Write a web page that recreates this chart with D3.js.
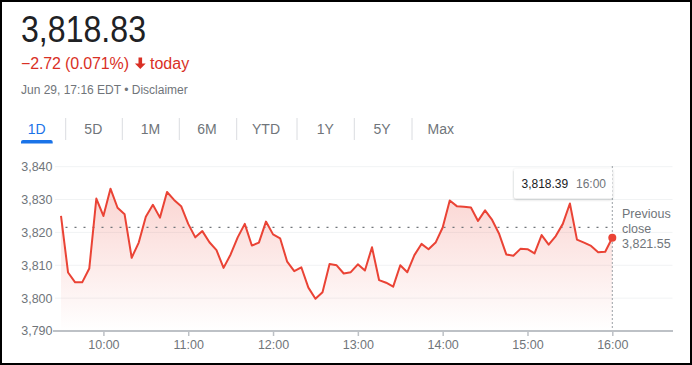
<!DOCTYPE html>
<html>
<head>
<meta charset="utf-8">
<script src="https://cdn.jsdelivr.net/npm/d3@7"></script>
<style>
  body { margin: 0; background: #fff; }
  text { font-family: Arial, "Liberation Sans", sans-serif; }
</style>
</head>
<body>
<div id="chart"></div>
<script>
const w = 692;
const h = 365;

// quote header
const lastPrice = '3,818.83';
const changeText = '\u22122.72 (0.071%)';
const changeWhen = 'today';
const stampText = 'Jun 29, 17:16 EDT \u2022 Disclaimer';
const tabLabels = ['1D', '5D', '1M', '6M', 'YTD', '1Y', '5Y', 'Max'];

// intraday series, 5 minute bars from 09:30 to 16:00
const startTime = '2021-06-29T09:30:00';
const stepMinutes = 5;
const prices = [
  3825.0, 3807.8, 3804.8, 3804.8, 3809.0, 3830.3, 3825.0, 3833.3, 3827.5, 3825.5,
  3812.3, 3816.9, 3824.8, 3828.4, 3824.5, 3832.3, 3829.9, 3828.0, 3822.6, 3818.5,
  3820.4, 3817.0, 3814.6, 3809.2, 3813.3, 3818.5, 3822.6, 3816.0, 3816.9, 3823.3,
  3819.4, 3818.2, 3811.1, 3808.2, 3809.4, 3803.2, 3799.8, 3801.8, 3810.4, 3810.0,
  3807.5, 3807.9, 3810.3, 3808.4, 3815.5, 3805.5, 3804.7, 3803.5, 3810.0, 3807.9,
  3813.1, 3816.5, 3814.9, 3816.9, 3821.5, 3829.7, 3828.0, 3827.8, 3827.6, 3823.5,
  3826.7, 3823.8, 3819.5, 3813.3, 3812.9, 3815.0, 3814.9, 3813.6, 3819.2, 3816.3,
  3818.9, 3822.6, 3828.8, 3817.8, 3816.9, 3815.9, 3814.0, 3814.1, 3818.39
];
const previousClose = 3821.55;
const yTicks = [3790, 3800, 3810, 3820, 3830, 3840];
const tooltipValue = '3,818.39';
const tooltipTime = '16:00';

const t0 = new Date(startTime);
const dataset = prices.map((p, i) => [new Date(t0.getTime() + i * stepMinutes * 60000), p]);

const xScale = d3.scaleTime()
  .domain([dataset[0][0], dataset[dataset.length - 1][0]])
  .range([61, 612.3]);

const yScale = d3.scaleLinear()
  .domain([3790, 3840])
  .range([331, 166.7]);

const svg = d3.select('#chart')
  .append('svg')
  .attr('width', w)
  .attr('height', h);

const defs = svg.append('defs');
const grad = defs.append('linearGradient')
  .attr('id', 'fade')
  .attr('gradientUnits', 'userSpaceOnUse')
  .attr('x1', 0).attr('y1', yScale(3840))
  .attr('x2', 0).attr('y2', yScale(3790));
grad.append('stop').attr('offset', '0%').attr('stop-color', '#ea4335').attr('stop-opacity', 0.26);
grad.append('stop').attr('offset', '100%').attr('stop-color', '#ea4335').attr('stop-opacity', 0);

defs.append('filter')
  .attr('id', 'shadow')
  .attr('x', '-20%').attr('y', '-40%').attr('width', '140%').attr('height', '180%')
  .append('feDropShadow')
  .attr('dx', 0).attr('dy', 1).attr('stdDeviation', 1.2)
  .attr('flood-color', '#3c4043').attr('flood-opacity', 0.35);

// header
svg.append('text')
  .attr('x', 21).attr('y', 42)
  .attr('textLength', 125).attr('lengthAdjust', 'spacingAndGlyphs')
  .style('font-size', '36px')
  .style('fill', '#202124')
  .text(lastPrice);

svg.append('text')
  .attr('x', 21).attr('y', 69)
  .attr('textLength', 108)
  .style('font-size', '16px')
  .style('fill', '#d93025')
  .text(changeText);

// down arrow
svg.append('path')
  .attr('d', 'M138.5,57.5 h3.6 v6 h3.6 l-5.4,5.6 l-5.4,-5.6 h3.6 z')
  .style('fill', '#d93025');

svg.append('text')
  .attr('x', 150).attr('y', 69)
  .style('font-size', '16px')
  .style('fill', '#d93025')
  .text(changeWhen);

svg.append('text')
  .attr('x', 21).attr('y', 94)
  .style('font-size', '12px')
  .style('fill', '#70757a')
  .text(stampText);

// range tabs
const tabX = [36.7, 93.3, 150.5, 207, 266, 325.3, 382, 440.8];
const sepX = [65.7, 122.3, 179.3, 236.7, 297, 354.3, 412];

svg.selectAll('.tab')
  .data(tabLabels)
  .enter()
  .append('text')
  .attr('class', 'tab')
  .attr('x', (d, i) => tabX[i])
  .attr('y', 134.3)
  .attr('text-anchor', 'middle')
  .style('font-size', '14px')
  .style('fill', (d, i) => i === 0 ? '#1a73e8' : '#70757a')
  .text(d => d);

svg.selectAll('.sep')
  .data(sepX)
  .enter()
  .append('line')
  .attr('class', 'sep')
  .attr('x1', d => d).attr('x2', d => d)
  .attr('y1', 118).attr('y2', 140)
  .style('stroke', '#dadce0')
  .style('stroke-width', 1);

svg.append('path')
  .attr('d', 'M21,143.5 v-1.5 a2,2 0 0 1 2,-2 h27.7 a2,2 0 0 1 2,2 v1.5 z')
  .style('fill', '#1a73e8');

// grid
svg.selectAll('.grid')
  .data(yTicks.slice(1))
  .enter()
  .append('line')
  .attr('class', 'grid')
  .attr('x1', 55).attr('x2', 672.5)
  .attr('y1', d => yScale(d)).attr('y2', d => yScale(d))
  .style('stroke', '#f1f3f4')
  .style('stroke-width', 1);

svg.selectAll('.ylab')
  .data(yTicks)
  .enter()
  .append('text')
  .attr('class', 'ylab')
  .attr('x', 52.5)
  .attr('y', d => yScale(d))
  .attr('dy', '0.35em')
  .attr('text-anchor', 'end')
  .style('font-size', '12.5px')
  .style('fill', '#70757a')
  .text(d => d3.format(',')(d));

// area + line
const area = d3.area()
  .x(d => xScale(d[0]))
  .y0(yScale(3790))
  .y1(d => yScale(d[1]));

const line = d3.line()
  .x(d => xScale(d[0]))
  .y(d => yScale(d[1]));

svg.append('path')
  .datum(dataset)
  .attr('d', area)
  .style('fill', 'url(#fade)');

// previous close
svg.append('line')
  .attr('x1', 65.5).attr('x2', xScale(dataset[dataset.length - 1][0]))
  .attr('y1', yScale(previousClose)).attr('y2', yScale(previousClose))
  .style('stroke', '#70757a')
  .style('stroke-width', 1.2)
  .style('stroke-dasharray', '2,7');

svg.append('path')
  .datum(dataset)
  .attr('d', line)
  .style('fill', 'none')
  .style('stroke', '#ea4335')
  .style('stroke-width', 2)
  .style('stroke-linejoin', 'round');

// hover line at last point
const lastX = xScale(dataset[dataset.length - 1][0]);
svg.append('line')
  .attr('x1', lastX).attr('x2', lastX)
  .attr('y1', 166).attr('y2', 331)
  .style('stroke', '#9aa0a6')
  .style('stroke-width', 1)
  .style('stroke-dasharray', '2,2');

// x axis
const xAxis = d3.axisBottom(xScale)
  .ticks(d3.timeHour.every(1))
  .tickFormat(d3.timeFormat('%H:%M'))
  .tickSize(5)
  .tickSizeOuter(0)
  .tickPadding(4);

const gx = svg.append('g')
  .attr('id', 'x-axis')
  .attr('transform', 'translate(0, ' + 331 + ')')
  .call(xAxis);
gx.select('.domain').remove();
gx.selectAll('line').style('stroke', '#bdc1c6').style('stroke-width', 1.5);
gx.selectAll('text')
  .style('font-family', 'Arial, "Liberation Sans", sans-serif')
  .style('font-size', '12.5px')
  .style('fill', '#70757a');

svg.append('line')
  .attr('x1', 53).attr('x2', 673)
  .attr('y1', 331).attr('y2', 331)
  .style('stroke', '#bdc1c6')
  .style('stroke-width', 2);

svg.append('circle')
  .attr('cx', lastX)
  .attr('cy', yScale(dataset[dataset.length - 1][1]))
  .attr('r', 4)
  .style('fill', '#ea4335');

// previous close label
const pc = svg.append('text')
  .attr('x', 622)
  .attr('y', 218)
  .style('font-size', '12.5px')
  .style('fill', '#70757a');
pc.append('tspan').attr('x', 622).attr('dy', 0).text('Previous');
pc.append('tspan').attr('x', 622).attr('dy', 15).text('close');
pc.append('tspan').attr('x', 622).attr('dy', 15).text(d3.format(',.2f')(previousClose));

// tooltip
const tip = svg.append('g');
tip.append('rect')
  .attr('x', 514).attr('y', 168.5)
  .attr('width', 98.5).attr('height', 30)
  .attr('rx', 2)
  .style('fill', '#fff')
  .style('filter', 'url(#shadow)');
tip.append('text')
  .attr('x', 521.5).attr('y', 188)
  .style('font-size', '12px')
  .style('fill', '#202124')
  .text(tooltipValue);
tip.append('text')
  .attr('x', 576).attr('y', 188)
  .style('font-size', '12px')
  .style('fill', '#70757a')
  .text(tooltipTime);

// frame
svg.append('rect')
  .attr('x', 1).attr('y', 1)
  .attr('width', w - 2).attr('height', h - 2)
  .style('fill', 'none')
  .style('stroke', '#000')
  .style('stroke-width', 2);
</script>
</body>
</html>
